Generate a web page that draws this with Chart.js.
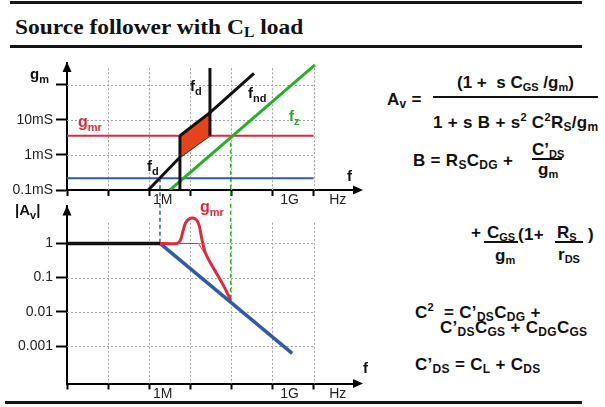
<!DOCTYPE html>
<html>
<head>
<meta charset="utf-8">
<script src="https://cdn.jsdelivr.net/npm/chart.js@4"></script>
<style>
  html, body { margin:0; padding:0; background:#fff; }
  #page { position:relative; width:605px; height:407px; overflow:hidden; background:#fff; font-family:'Liberation Sans', Arial, sans-serif; }
  canvas { position:absolute; left:0; }
  .rule { position:absolute; background:#151515; }
  .title { position:absolute; left:15px; top:17px; font:bold 21px 'Liberation Serif','Times New Roman',serif; line-height:21px; color:#111; white-space:nowrap; transform:scaleX(1.116); transform-origin:0 0; }
  .title .s { font-size:14px; vertical-align:-3px; }
  .lbl { position:absolute; font:bold 15px 'Liberation Sans', Arial, sans-serif; line-height:15px; white-space:nowrap; color:#111; z-index:5; }
  .lbl .s { font-size:11px; vertical-align:-4px; }
  .eq { position:absolute; font:bold 17px 'Liberation Sans', Arial, sans-serif; line-height:17px; white-space:nowrap; color:#111; letter-spacing:0.3px; }
  .eq .s { font-size:12px; vertical-align:-3px; }
  .eq .t { font-size:11px; vertical-align:-3px; }
  .eq .p { font-size:11px; vertical-align:7px; }
  .bar { position:absolute; height:2px; background:#111; }
</style>
</head>
<body>
<div id="page">
  <div class="rule" style="left:10px;top:1px;width:572px;height:3px"></div>
  <div class="title">Source follower with C<span class="s">L</span> load</div>
  <div class="rule" style="left:10px;top:45px;width:572px;height:3px"></div>
  <div class="rule" style="left:5px;top:401px;width:577px;height:3px"></div>

  <canvas id="c1" width="370" height="165" style="top:50px"></canvas>
  <canvas id="c2" width="370" height="212" style="top:195px"></canvas>

  <!-- chart annotations -->
  <div class="lbl" style="left:30px;top:66px">g<span class="s">m</span></div>
  <div class="lbl" style="left:15px;top:202px">|A<span class="s">v</span>|</div>
  <div class="lbl" style="left:78px;top:114px;color:#e02a3a;font-size:16px">g<span class="s">mr</span></div>
  <div class="lbl" style="left:200px;top:199px;color:#e02a3a;font-size:16px">g<span class="s">mr</span></div>
  <div class="lbl" style="left:190px;top:78px">f<span class="s">d</span></div>
  <div class="lbl" style="left:147px;top:158px">f<span class="s">d</span></div>
  <div class="lbl" style="left:248px;top:85px">f<span class="s">nd</span></div>
  <div class="lbl" style="left:289px;top:108px;color:#2aa82a">f<span class="s">z</span></div>
  <div class="lbl" style="left:347px;top:168px">f</div>
  <div class="lbl" style="left:363px;top:360px">f</div>

  <!-- equations -->
  <div class="eq" style="left:387px;top:91px">A<span class="s">v</span> =</div>
  <div class="eq" style="left:457px;top:74px;letter-spacing:0">(1 +&nbsp; s C<span class="t">GS</span> /g<span class="t">m</span>)</div>
  <div class="bar" style="left:433px;top:96px;width:165px"></div>
  <div class="eq" style="left:433px;top:109px">1 + s B + s<span class="p">2</span> C<span class="p">2</span>R<span class="s">S</span>/g<span class="s">m</span></div>

  <div class="eq" style="left:413px;top:152px">B = R<span class="s">S</span>C<span class="s">DG</span> +</div>
  <div class="eq" style="left:532px;top:141px;letter-spacing:0">C&#8217;<span class="t">DS</span></div>
  <div class="bar" style="left:532px;top:158px;width:30px"></div>
  <div class="eq" style="left:538px;top:161px;letter-spacing:0">g<span class="t">m</span></div>

  <div class="eq" style="left:471px;top:224px">+</div>
  <div class="eq" style="left:487px;top:224px;letter-spacing:0">C<span class="t">GS</span></div>
  <div class="bar" style="left:484px;top:241px;width:34px"></div>
  <div class="eq" style="left:495px;top:247px;letter-spacing:0">g<span class="t">m</span></div>
  <div class="eq" style="left:518px;top:226px">(1+</div>
  <div class="eq" style="left:557px;top:224px;letter-spacing:0">R<span class="t">S</span></div>
  <div class="bar" style="left:555px;top:241px;width:28px"></div>
  <div class="eq" style="left:558px;top:246px;letter-spacing:0">r<span class="t">DS</span></div>
  <div class="eq" style="left:588px;top:226px">)</div>

  <div class="eq" style="left:415px;top:299px">C<span class="p">2</span>&nbsp; = C&#8217;<span class="s">DS</span>C<span class="s">DG</span> +</div>
  <div class="eq" style="left:440px;top:319px">C&#8217;<span class="s">DS</span>C<span class="s">GS</span> + C<span class="s">DG</span>C<span class="s">GS</span></div>
  <div class="eq" style="left:415px;top:356px">C&#8217;<span class="s">DS</span> = C<span class="s">L</span> + C<span class="s">DS</span></div>
</div>

<script>
// ---------- axis ticks ----------
const freqTicks  = [1e4, 1e5, 1e6, 1e7, 1e8, 1e9, 1e10];
const freqLabels = ['', '', ' 1M', '', '', '  1G', '    Hz'];
const gmTicks    = [1e-4, 1e-3, 1e-2, 1e-1];
const gmLabels   = ['0.1mS', '1mS', '10mS', ''];
const avTicks    = [1e-3, 1e-2, 1e-1, 1];
const avLabels   = ['0.001', '0.01', '0.1', '1'];

// ---------- top panel: gm vs f ----------
const gmBlueF  = [1e4, 1e10];        const gmBlueG  = [2.16e-4, 2.16e-4];
const gmrF     = [1e4, 1e10];        const gmrG     = [3.56e-3, 3.56e-3];
const fzF      = [3.2e6, 1.08e10];   const fzG      = [1e-4, 0.373];
const fdLowF   = [9.5e5, 5.6e6];     const fdLowG   = [1e-4, 8.6e-4];
const fndF     = [3.01e7, 3.55e8];   const fndG     = [0.0162, 0.216];
const patchTopF = [5.6e6, 3.01e7];   const patchTopG = [3.56e-3, 0.0162];
const patchBotF = [5.6e6, 3.01e7];   const patchBotG = [8.6e-4, 3.56e-3];
const fdLeftF  = [5.6e6, 5.6e6];     const fdLeftG  = [1e-4, 3.56e-3];
const fdRightF = [3.01e7, 3.01e7];   const fdRightG = [0.306, 3.56e-3];
const blueDashTopF  = [1.83e6, 1.83e6]; const blueDashTopG  = [2.16e-4, 1e-6];
const greenDashTopF = [9.6e7, 9.6e7];   const greenDashTopG = [3.56e-3, 1e-6];

// ---------- bottom panel: |Av| vs f ----------
const unityF = [1e4, 1.83e6];        const unityA = [1, 1];
const rollF  = [1.83e6, 3.02e9];     const rollA  = [1, 6.1e-4];
const peakF  = [1.83e6, 4.74e6, 5.70e6, 6.64e6, 7.68e6, 9.29e6, 1.16e7, 1.46e7, 1.66e7, 1.82e7, 2.0e7, 2.32e7, 3.08e7, 4.48e7, 6.49e7, 9.6e7];
const peakA  = [1, 1, 1.22, 2.28, 3.96, 5.18, 5.53, 4.65, 3.18, 1.82, 1.04, 0.533, 0.273, 0.126, 0.0575, 0.0221];
const thinF  = [1.83e6, 1.57e7, 2.75e7]; const thinA = [1, 1, 0.35];
const blueDashBotF  = [1.83e6, 1.83e6]; const blueDashBotA  = [1e3, 1];
const greenDashBotF = [9.6e7, 9.6e7];   const greenDashBotA = [1e3, 0.0221];

const RED = '#e02a3a', BLUE = '#2f5aa8', GREEN = '#2aae2a', BLACK = '#111', FILL = '#e5421e';

Chart.defaults.font.family = "'Liberation Sans', Arial, sans-serif";
const pts = (xs, ys) => xs.map((x, i) => ({x, y: ys[i]}));

const gridPlugin = {
  id: 'dashGrid',
  beforeDatasetsDraw(chart, args, o) {
    const {ctx} = chart, x = chart.scales.x, y = chart.scales.y;
    ctx.save();
    ctx.strokeStyle = '#a0a0a0'; ctx.lineWidth = 1; ctx.setLineDash([2, 2]);
    const xl = x.getPixelForValue(o.xFrom), xr = x.getPixelForValue(o.xTo);
    const yt = y.getPixelForValue(o.yTop), yb = chart.chartArea.bottom;
    o.xValues.forEach(v => { const p = Math.round(x.getPixelForValue(v)) + 0.5;
      ctx.beginPath(); ctx.moveTo(p, yt); ctx.lineTo(p, yb); ctx.stroke(); });
    o.yValues.forEach(v => { const p = Math.round(y.getPixelForValue(v)) + 0.5;
      ctx.beginPath(); ctx.moveTo(xl, p); ctx.lineTo(xr, p); ctx.stroke(); });
    ctx.restore();
  }
};
const arrowPlugin = {
  id: 'arrows',
  afterDraw(chart) {
    const {ctx, chartArea: {left, top, right, bottom}} = chart;
    ctx.save(); ctx.fillStyle = '#000';
    ctx.beginPath(); ctx.moveTo(left, top - 1); ctx.lineTo(left - 4.5, top + 9); ctx.lineTo(left + 4.5, top + 9); ctx.closePath(); ctx.fill();
    ctx.beginPath(); ctx.moveTo(right + 6, bottom); ctx.lineTo(right - 4, bottom - 4.5); ctx.lineTo(right - 4, bottom + 4.5); ctx.closePath(); ctx.fill();
    ctx.restore();
  }
};

function xScale() {
  return {
    type: 'logarithmic', position: 'bottom', min: 1e4, max: 1.14e11,
    afterBuildTicks: s => { s.ticks = freqTicks.map(v => ({value: v})); },
    afterFit: s => { s.height = 20; },
    ticks: { autoSkip: false, maxRotation: 0, minRotation: 0, align: 'start', padding: -4,
             font: {size: 14}, color: '#222', callback: (v, i) => freqLabels[i] },
    grid: { display: true, drawOnChartArea: false, drawTicks: true, tickLength: 6, tickWidth: 2, tickColor: '#000' },
    border: { display: true, color: '#000', width: 2 }
  };
}
function yScale(min, max, ticks, labels) {
  return {
    type: 'logarithmic', position: 'left', min, max,
    afterBuildTicks: s => { s.ticks = ticks.map(v => ({value: v})); },
    afterFit: s => { s.width = 67; },
    ticks: { autoSkip: false, padding: 3, font: {size: 14}, color: '#222', callback: (v, i) => labels[i] },
    grid: { display: true, drawOnChartArea: false, drawTicks: true, tickLength: 11, tickWidth: 2, tickColor: '#000' },
    border: { display: true, color: '#000', width: 2 }
  };
}
function line(data, color, width, order, extra) {
  return Object.assign({ data, borderColor: color, backgroundColor: color, borderWidth: width,
    showLine: true, pointRadius: 0, pointHoverRadius: 0, fill: false, tension: 0, order }, extra || {});
}
const common = {
  responsive: false, animation: false, devicePixelRatio: 1,
  plugins: { legend: { display: false }, tooltip: { enabled: false } },
  events: []
};

new Chart(document.getElementById('c1'), {
  type: 'scatter',
  data: { datasets: [
    line(pts(gmBlueF, gmBlueG), BLUE, 2, 10),
    line(pts(gmrF, gmrG), RED, 2, 9),
    line(pts(fzF, fzG), GREEN, 3, 5),
    line(pts(patchTopF, patchTopG), BLACK, 3, 4, { fill: '+1', backgroundColor: FILL }),
    line(pts(patchBotF, patchBotG), '#3a1a10', 1.5, 4.5),
    line(pts(fdLowF, fdLowG), BLACK, 3, 2),
    line(pts(fndF, fndG), BLACK, 3, 2),
    line(pts(fdLeftF, fdLeftG), BLACK, 3, 1),
    line(pts(fdRightF, fdRightG), BLACK, 3, 1),
    line(pts(blueDashTopF, blueDashTopG), BLUE, 1.5, 11, { borderDash: [4, 3], clip: {left: 0, top: 0, right: 0, bottom: 10} }),
    line(pts(greenDashTopF, greenDashTopG), GREEN, 1.5, 11, { borderDash: [4, 3], clip: {left: 0, top: 0, right: 0, bottom: 10} })
  ]},
  options: Object.assign({}, common, {
    layout: { padding: { top: 13, right: 13, bottom: 5, left: 0 } },
    scales: { x: xScale(), y: yScale(1e-4, 0.425, gmTicks, gmLabels) },
    plugins: Object.assign({}, common.plugins, {
      dashGrid: { xValues: freqTicks.slice(1), yValues: gmTicks.slice(1), xFrom: 1e4, xTo: 1e10, yTop: 0.3 }
    })
  }),
  plugins: [gridPlugin, arrowPlugin]
});

new Chart(document.getElementById('c2'), {
  type: 'scatter',
  data: { datasets: [
    line(pts(unityF, unityA), BLACK, 3.5, 3),
    line(pts(rollF, rollA), BLUE, 3.5, 4),
    line(pts(peakF, peakA), RED, 3, 2, { tension: 0.35 }),
    line(pts(thinF, thinA), RED, 1, 2),
    line(pts(blueDashBotF, blueDashBotA), BLUE, 1.5, 6, { borderDash: [4, 3], clip: {left: 0, top: 5, right: 0, bottom: 0} }),
    line(pts(greenDashBotF, greenDashBotA), GREEN, 1.5, 6, { borderDash: [4, 3], clip: {left: 0, top: 5, right: 0, bottom: 0} })
  ]},
  options: Object.assign({}, common, {
    layout: { padding: { top: 10, right: 13, bottom: 3.5, left: 0 } },
    scales: { x: xScale(), y: yScale(8.07e-5, 12.05, avTicks, avLabels) },
    plugins: Object.assign({}, common.plugins, {
      dashGrid: { xValues: freqTicks.slice(1), yValues: avTicks, xFrom: 1e4, xTo: 1e10, yTop: 4 }
    })
  }),
  plugins: [gridPlugin, arrowPlugin]
});
</script>
</body>
</html>
